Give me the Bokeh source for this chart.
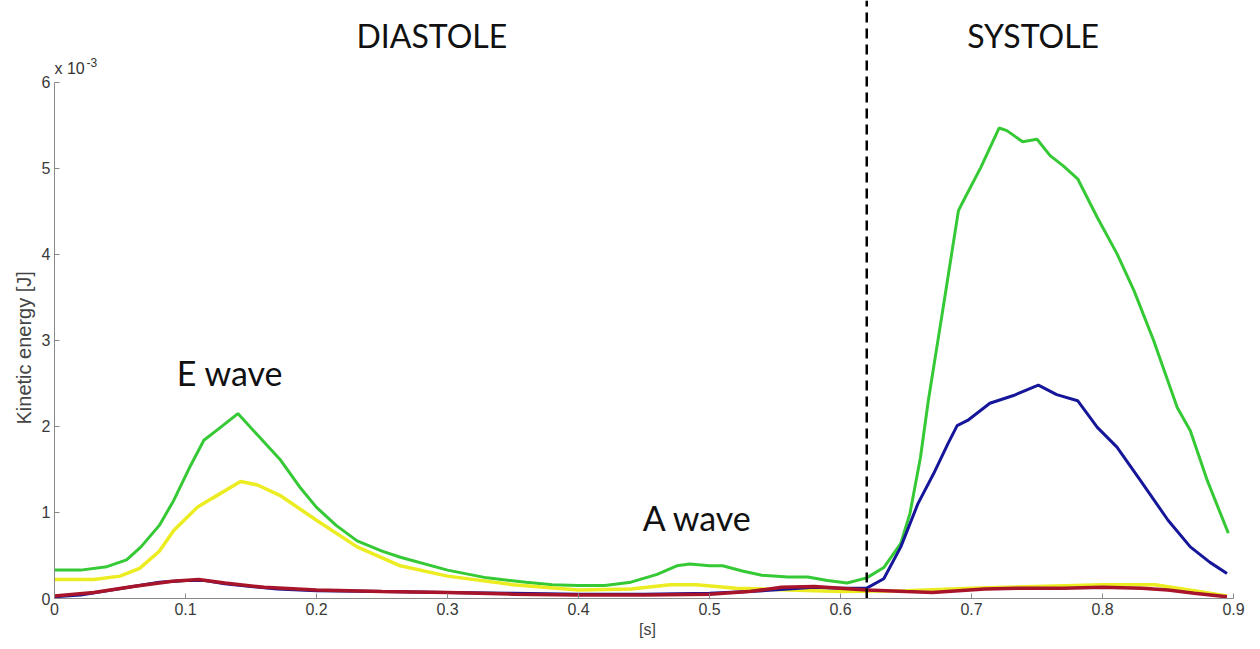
from bokeh.plotting import figure
from bokeh.models import Label, FixedTicker, Range1d, Title
from bokeh.embed import file_html
from bokeh.resources import INLINE

# ---- data (energy in units of 1e-3 J, time in s) ----
green_t = [0, 0.02, 0.04, 0.055, 0.066, 0.08, 0.091, 0.104, 0.114, 0.125, 0.14, 0.155, 0.172, 0.187,
           0.2, 0.215, 0.231, 0.25, 0.264, 0.3, 0.33, 0.36, 0.38, 0.4, 0.42, 0.44, 0.46, 0.475, 0.485,
           0.5, 0.51, 0.525, 0.54, 0.56, 0.575, 0.59, 0.605, 0.62, 0.633, 0.646, 0.653, 0.661, 0.667,
           0.678, 0.69, 0.694, 0.707, 0.721, 0.727, 0.739, 0.75, 0.76, 0.77, 0.781, 0.796, 0.811,
           0.824, 0.839, 0.857, 0.867, 0.88, 0.896]
green_v = [0.33, 0.33, 0.37, 0.45, 0.6, 0.85, 1.14, 1.55, 1.84, 1.97, 2.15, 1.9, 1.62, 1.3,
           1.06, 0.85, 0.67, 0.55, 0.48, 0.33, 0.24, 0.19, 0.16, 0.15, 0.15, 0.19, 0.28, 0.38, 0.4,
           0.38, 0.38, 0.32, 0.27, 0.25, 0.25, 0.21, 0.18, 0.24, 0.36, 0.64, 0.99, 1.64, 2.3,
           3.35, 4.51, 4.63, 5.01, 5.47, 5.44, 5.31, 5.34, 5.15, 5.03, 4.88, 4.43, 4.01,
           3.58, 3.0, 2.22, 1.95, 1.37, 0.76]

yellow_t = [0, 0.03, 0.05, 0.065, 0.08, 0.091, 0.109, 0.121, 0.142, 0.155, 0.172, 0.2, 0.231, 0.264,
            0.3, 0.35, 0.4, 0.44, 0.47, 0.49, 0.52, 0.56, 0.6, 0.65, 0.7, 0.75, 0.8, 0.84, 0.87, 0.895]
yellow_v = [0.22, 0.22, 0.26, 0.35, 0.55, 0.79, 1.06, 1.17, 1.36, 1.32, 1.2, 0.91, 0.6, 0.38,
            0.26, 0.16, 0.1, 0.11, 0.16, 0.16, 0.12, 0.1, 0.08, 0.09, 0.12, 0.14, 0.16, 0.16, 0.09, 0.03]

blue_t = [0, 0.02, 0.04, 0.06, 0.08, 0.1, 0.115, 0.13, 0.15, 0.17, 0.2, 0.25, 0.3, 0.35, 0.4, 0.45,
          0.5, 0.53, 0.56, 0.58, 0.6, 0.62, 0.633, 0.646, 0.659, 0.671, 0.682, 0.689, 0.697, 0.714,
          0.732, 0.751, 0.765, 0.781, 0.796, 0.811, 0.829, 0.85, 0.867, 0.882, 0.895]
blue_v = [0.02, 0.04, 0.09, 0.14, 0.19, 0.21, 0.21, 0.17, 0.14, 0.11, 0.09, 0.08, 0.07, 0.06, 0.05, 0.05,
          0.06, 0.08, 0.11, 0.13, 0.12, 0.12, 0.23, 0.6, 1.1, 1.45, 1.8, 2.01, 2.07, 2.27,
          2.36, 2.48, 2.37, 2.3, 1.99, 1.76, 1.37, 0.91, 0.6, 0.42, 0.29]

red_t = [0, 0.03, 0.06, 0.09, 0.11, 0.13, 0.16, 0.2, 0.25, 0.3, 0.35, 0.4, 0.45, 0.5, 0.53, 0.555,
         0.58, 0.6, 0.62, 0.65, 0.67, 0.69, 0.71, 0.74, 0.77, 0.8, 0.83, 0.85, 0.87, 0.895]
red_v = [0.03, 0.07, 0.14, 0.2, 0.22, 0.18, 0.13, 0.1, 0.08, 0.07, 0.05, 0.04, 0.04, 0.05, 0.08, 0.13,
         0.14, 0.12, 0.1, 0.08, 0.07, 0.09, 0.11, 0.12, 0.12, 0.13, 0.12, 0.1, 0.06, 0.02]

x_ticks = [0, 0.1, 0.2, 0.3, 0.4, 0.5, 0.6, 0.7, 0.8, 0.9]
x_tick_labels = ["0", "0.1", "0.2", "0.3", "0.4", "0.5", "0.6", "0.7", "0.8", "0.9"]
y_ticks = [0, 1, 2, 3, 4, 5, 6]
y_tick_labels = ["0", "1", "2", "3", "4", "5", "6"]
phase_boundary = 0.62

Y_TOP = 6.953
p = figure(width=1248, height=641, output_backend="svg", toolbar_location=None,
           x_range=Range1d(0, 0.9053), y_range=Range1d(0, Y_TOP),
           min_border_left=54, min_border_right=8, min_border_top=0, min_border_bottom=43)
p.outline_line_color = None
p.grid.visible = False
p.background_fill_color = "white"

p.line(green_t, green_v, line_color="#36c936", line_width=3)
p.line(yellow_t, yellow_v, line_color="#ecec22", line_width=3.5)
p.line(blue_t, blue_v, line_color="#16169a", line_width=3)
p.line(red_t, red_v, line_color="#a8142a", line_width=3.5)

p.segment(x0=[phase_boundary], y0=[0], x1=[phase_boundary], y1=[Y_TOP],
          line_color="black", line_width=2.5, line_dash="10 6")

for ax in (p.xaxis[0], p.yaxis[0]):
    ax.axis_line_color = "#8a8a8a"
    ax.major_tick_line_color = "#8a8a8a"
    ax.major_tick_in = 5
    ax.major_tick_out = 0
    ax.minor_tick_line_color = None
    ax.major_label_text_font = "Liberation Sans"
    ax.major_label_text_font_size = "16px"
    ax.major_label_text_color = "#3a3a3a"
    ax.major_label_standoff = 4

p.xaxis.bounds = (0, 0.9)
p.yaxis.bounds = (0, 6)
p.xaxis.ticker = FixedTicker(ticks=x_ticks)
p.yaxis.ticker = FixedTicker(ticks=y_ticks)
p.xaxis.major_label_overrides = {t: l for t, l in zip(x_ticks, x_tick_labels)}
p.yaxis.major_label_overrides = {t: l for t, l in zip(y_ticks, y_tick_labels)}
p.xaxis.axis_label = "[s]"
p.xaxis.axis_label_text_font = "Liberation Sans"
p.xaxis.axis_label_text_font_style = "normal"
p.xaxis.axis_label_text_font_size = "16px"
p.xaxis.axis_label_text_color = "#444444"
p.xaxis.axis_label_standoff = 3

# y-axis title in the left side panel, shifted up to sit centred on the 0..6 span
p.add_layout(Title(text="Kinetic energy [J]", align="left", offset=174, standoff=8,
                   text_font="Liberation Sans", text_font_size="20px", text_font_style="normal",
                   text_color="#444444"), "left")
# exponent marker
p.add_layout(Label(x=0, y=6, text="x 10", x_offset=0, y_offset=5,
                   text_font="Liberation Sans", text_font_size="16px", text_color="#333333",
                   text_align="left", text_baseline="bottom"))
p.add_layout(Label(x=0, y=6, text="-3", x_offset=32, y_offset=15,
                   text_font="Liberation Sans", text_font_size="12px", text_color="#333333",
                   text_align="left", text_baseline="bottom"))

def annot(x, y, txt, size):
    p.add_layout(Label(x=x, y=y, text=txt, text_font="Lato", text_font_size=size,
                       text_color="#111111", text_align="center", text_baseline="middle"))

annot(0.288, 6.55, "DIASTOLE", "32px")
annot(0.747, 6.55, "SYSTOLE", "32px")
annot(0.134, 2.63, "E wave", "34px")
annot(0.491, 0.94, "A wave", "34px")

open("out.html", "w").write(file_html(p, INLINE))
